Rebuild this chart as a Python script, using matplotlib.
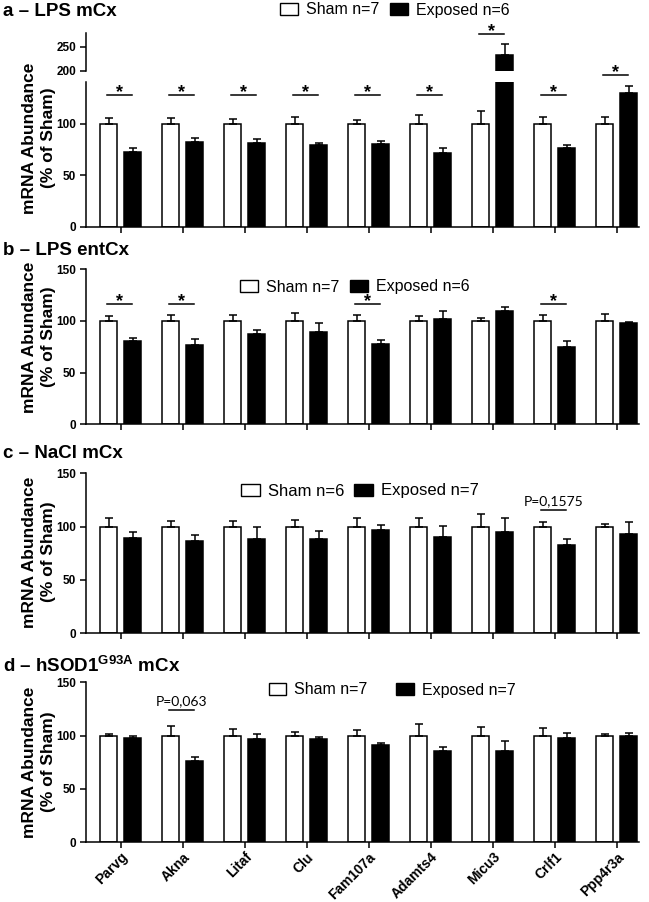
import matplotlib
matplotlib.use("Agg")
import matplotlib.pyplot as plt
from matplotlib.patches import Patch
import numpy as np

plt.rcParams["font.family"] = ["Liberation Sans", "DejaVu Sans"]
plt.rcParams["font.weight"] = "bold"
plt.rcParams["mathtext.fontset"] = "custom"
plt.rcParams["mathtext.rm"] = "Liberation Sans:bold"
plt.rcParams["mathtext.it"] = "Liberation Sans:bold"
plt.rcParams["mathtext.bf"] = "Liberation Sans:bold"

genes = ["Parvg", "Akna", "Litaf", "Clu", "Fam107a", "Adamts4", "Micu3", "Crlf1", "Ppp4r3a"]
sham = [100] * 9

# panel a - LPS mCx
a_sham_sem = [5.8, 5.8, 4.9, 6.5, 3.6, 8.8, 12.3, 6.5, 7.1]
a_exp = [72.4, 82.8, 81.8, 79.2, 80.5, 71.8, 231.8, 77.0, 129.9]
a_exp_sem = [4.6, 3.6, 3.2, 2.6, 3.3, 4.5, 23.6, 2.2, 6.8]
a_sig = [128, 128, 128, 128, 128, 128, 275.7, 128, 191.3]

# panel b - LPS entCx
b_sham_sem = [4.5, 5.5, 6.1, 7.4, 5.8, 4.5, 3.2, 6.1, 6.8]
b_exp = [80.3, 77.0, 87.4, 89.0, 77.7, 102.3, 109.4, 74.4, 98.4]
b_exp_sem = [3.2, 5.5, 3.9, 9.0, 4.2, 7.1, 4.5, 5.9, 0.3]
b_sig = [116.8, 116.8, None, None, 116.8, None, None, 116.8, None]

# panel c - NaCl mCx
c_sham_sem = [7.8, 5.0, 5.0, 6.6, 8.5, 7.8, 11.9, 4.4, 2.8]
c_exp = [89.0, 86.8, 88.4, 88.7, 96.6, 90.3, 95.0, 82.8, 93.4]
c_exp_sem = [5.7, 5.0, 11.0, 6.9, 4.7, 10.6, 13.2, 5.9, 10.7]

# panel d - hSOD1 G93A mCx
d_sham_sem = [1.6, 9.3, 5.9, 3.4, 5.3, 11.2, 7.8, 6.9, 1.9]
d_exp = [98.1, 76.6, 96.9, 97.2, 91.3, 86.0, 86.0, 97.8, 100.0]
d_exp_sem = [1.9, 3.4, 4.3, 1.6, 1.8, 3.7, 9.3, 4.7, 2.2]

W, H = 649, 902
fig = plt.figure(figsize=(W / 100, H / 100), dpi=100)


def px_axes(top, bottom, left=86, right=639):
    return fig.add_axes([left / W, 1 - bottom / H, (right - left) / W, (bottom - top) / H])


x = np.arange(len(genes))
OFF, BW = 0.195, 0.27
LW = 1.1


def draw_bars(ax, exp, sham_sem, exp_sem):
    ax.bar(x - OFF, sham, BW, color="white", edgecolor="black", linewidth=LW)
    ax.bar(x + OFF, exp, BW, color="black", edgecolor="black", linewidth=LW)
    z = np.zeros(len(x))
    ax.errorbar(x - OFF, sham, yerr=[z, sham_sem], fmt="none", ecolor="black",
                elinewidth=LW, capsize=3.2, capthick=LW)
    ax.errorbar(x + OFF, exp, yerr=[z, exp_sem], fmt="none", ecolor="black",
                elinewidth=LW, capsize=3.2, capthick=LW)


def style(ax, ylim, yticks, bottom=True):
    ax.set_xlim(-0.56, 8.36)
    ax.set_ylim(*ylim)
    ax.set_yticks(yticks)
    ax.spines[["top", "right"]].set_visible(False)
    ax.spines["left"].set_linewidth(LW)
    ax.spines["bottom"].set_linewidth(LW)
    ax.tick_params(direction="out", length=4, width=LW, labelsize=8.5, pad=3)
    if bottom:
        ax.set_xticks(x)
        ax.set_xticklabels([])
    else:
        ax.spines["bottom"].set_visible(False)
        ax.set_xticks([])


def star(ax, i, y, clip=True):
    ax.plot([i - 0.22, i + 0.18], [y, y], color="black", lw=LW, clip_on=clip)
    ax.annotate("*", (i - 0.02, y), xytext=(0, -1.5), textcoords="offset points",
                ha="center", va="baseline", fontsize=13, annotation_clip=False)


def pval(ax, i, y, label):
    ax.plot([i - 0.22, i + 0.18], [y, y], color="black", lw=LW)
    ax.annotate(label, (i - 0.02, y), xytext=(0, 2), textcoords="offset points",
                ha="center", va="bottom", fontsize=10, fontweight="normal",
                family=["Lato", "DejaVu Sans"])


# panel a with broken axis
ax_al = px_axes(81.7, 226.7)
ax_au = px_axes(33, 70.7)
for ax in (ax_al, ax_au):
    draw_bars(ax, a_exp, a_sham_sem, a_exp_sem)
style(ax_al, (0, 141), [0, 50, 100])
style(ax_au, (200, 278.5), [200, 250], bottom=False)
for i, y in enumerate(a_sig):
    if y > 141:
        star(ax_au, i, y, clip=False)
    else:
        star(ax_al, i, y)

ax_b = px_axes(269.3, 424.3)
draw_bars(ax_b, b_exp, b_sham_sem, b_exp_sem)
style(ax_b, (0, 150), [0, 50, 100, 150])
for i, y in enumerate(b_sig):
    if y is not None:
        star(ax_b, i, y)

ax_c = px_axes(473.3, 633.3)
draw_bars(ax_c, c_exp, c_sham_sem, c_exp_sem)
style(ax_c, (0, 150), [0, 50, 100, 150])
pval(ax_c, 7, 115.4, "P=0,1575")

ax_d = px_axes(682.3, 842.3)
draw_bars(ax_d, d_exp, d_sham_sem, d_exp_sem)
style(ax_d, (0, 150), [0, 50, 100, 150])
ax_d.set_xticklabels(genes, rotation=45, ha="right", rotation_mode="anchor", fontsize=10)
ax_d.tick_params(axis="x", pad=1.5)
pval(ax_d, 1, 124, "P=0,063")

# panel titles, y labels and legends
titles = ["a – LPS mCx", "b – LPS entCx", "c – NaCl mCx", r"d – hSOD1$^{G93A}$ mCx"]
title_y = [16, 255, 458, 672]
ylab_y = [138, 337, 552, 762]
legend_pos = [(395, 10), (355, 287), (360, 491), (392, 690)]
legend_n = [("Sham n=7", "Exposed n=6"), ("Sham n=7", "Exposed n=6"),
            ("Sham n=6", "Exposed n=7"), ("Sham n=7", "Exposed n=7")]
legend_size = [11.5, 11.5, 12, 11.5]
col_space = [0.7, 0.7, 0.6, 1.8]

for k in range(4):
    fig.text(3 / W, 1 - title_y[k] / H, titles[k], fontsize=13.5, va="baseline")
    fig.text(39 / W, 1 - ylab_y[k] / H, "mRNA Abundance\n(% of Sham)", rotation=90,
             ha="center", va="center", multialignment="center", fontsize=12.5,
             linespacing=1.3)
    handles = [Patch(facecolor="white", edgecolor="black", linewidth=1.0),
               Patch(facecolor="black", edgecolor="black", linewidth=1.0)]
    cx, cy = legend_pos[k]
    fig.legend(handles, legend_n[k], loc="center", bbox_to_anchor=(cx / W, 1 - cy / H),
               ncol=2, frameon=False, prop={"size": legend_size[k], "weight": "normal"},
               handlelength=1.1, handleheight=0.75, handletextpad=0.5,
               columnspacing=col_space[k], borderpad=0, borderaxespad=0)

fig.savefig("out.png", dpi=100)
